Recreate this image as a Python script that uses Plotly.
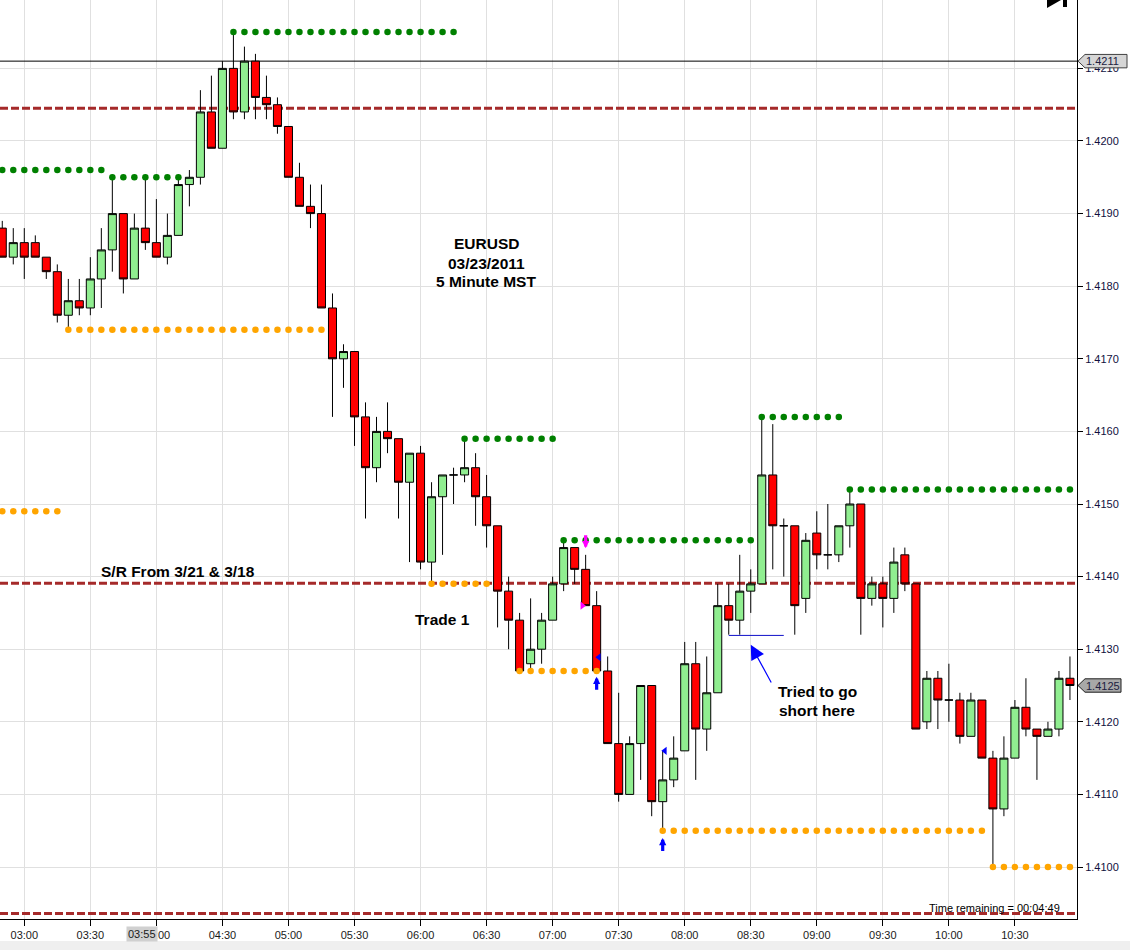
import pandas as pd
import plotly.graph_objects as go

DAY = "2011-03-23 "
FIRST_BAR = "02:50"

# ---------------- candle data (EURUSD, 5 minute bars) ----------------
open_ = [1.4188, 1.4184, 1.4186, 1.4186, 1.4184, 1.4182, 1.4176, 1.4178, 1.4177, 1.4181,
         1.4185, 1.4190, 1.4181, 1.4188, 1.4186, 1.4184, 1.4187, 1.4194, 1.4195, 1.4204,
         1.4199, 1.4210, 1.4204, 1.4211, 1.4206, 1.4205, 1.4202, 1.4195, 1.4191, 1.4190,
         1.4177, 1.4170, 1.4171, 1.4162, 1.4155, 1.4160, 1.4159, 1.4153, 1.4157, 1.4142,
         1.4151, 1.4154, 1.4154, 1.4155, 1.4151, 1.4147, 1.4138, 1.4134, 1.4128, 1.4130,
         1.4134, 1.4139, 1.4144, 1.4141, 1.4136, 1.4127, 1.4117, 1.4110, 1.4117, 1.4125,
         1.4109, 1.4112, 1.4116, 1.4128, 1.4119, 1.4124, 1.4136, 1.4134, 1.4138, 1.4139,
         1.4154, 1.4147, 1.4147, 1.4137, 1.4146, 1.4143, 1.4143, 1.4147, 1.4150, 1.4137,
         1.4139, 1.4137, 1.4143, 1.4139, 1.4120, 1.4126, 1.4123, 1.4123, 1.4118, 1.4123,
         1.4115, 1.4108, 1.4115, 1.4122, 1.4119, 1.4118, 1.4119, 1.4126]
high = [1.4189, 1.4188, 1.4188, 1.4187, 1.4184, 1.4183, 1.4181, 1.4181, 1.4184, 1.4188,
        1.4195, 1.4190, 1.4190, 1.4195, 1.4192, 1.4190, 1.4195, 1.4196, 1.4207, 1.4209,
        1.4211, 1.4215, 1.4213, 1.4212, 1.4209, 1.4206, 1.4202, 1.4197, 1.4194, 1.4194,
        1.4179, 1.4172, 1.4171, 1.4164, 1.4162, 1.4164, 1.4159, 1.4157, 1.4158, 1.4153,
        1.4154, 1.4155, 1.4159, 1.4157, 1.4154, 1.4147, 1.4140, 1.4135, 1.4137, 1.4135,
        1.4140, 1.4145, 1.4144, 1.4143, 1.4138, 1.4129, 1.4124, 1.4118, 1.4125, 1.4125,
        1.4116, 1.4118, 1.4131, 1.4131, 1.4129, 1.4139, 1.4139, 1.4143, 1.4141, 1.4162,
        1.4161, 1.4148, 1.4147, 1.4146, 1.4149, 1.4150, 1.4147, 1.4152, 1.4150, 1.4140,
        1.4140, 1.4144, 1.4144, 1.4139, 1.4127, 1.4127, 1.4128, 1.4124, 1.4124, 1.4123,
        1.4116, 1.4118, 1.4123, 1.4126, 1.4119, 1.4120, 1.4127, 1.4129]
low = [1.4184, 1.4183, 1.4181, 1.4184, 1.4181, 1.4175, 1.4174, 1.4176, 1.4176, 1.4177,
       1.4182, 1.4179, 1.4181, 1.4185, 1.4184, 1.4183, 1.4187, 1.4191, 1.4194, 1.4199,
       1.4199, 1.4203, 1.4203, 1.4203, 1.4203, 1.4201, 1.4195, 1.4191, 1.4188, 1.4177,
       1.4162, 1.4166, 1.4158, 1.4148, 1.4153, 1.4157, 1.4148, 1.4142, 1.4141, 1.4139,
       1.4143, 1.4150, 1.4153, 1.4147, 1.4144, 1.4133, 1.4130, 1.4127, 1.4127, 1.4128,
       1.4134, 1.4138, 1.4139, 1.4136, 1.4127, 1.4117, 1.4109, 1.4110, 1.4112, 1.4107,
       1.4105, 1.4111, 1.4116, 1.4112, 1.4116, 1.4124, 1.4132, 1.4132, 1.4135, 1.4139,
       1.4141, 1.4140, 1.4132, 1.4135, 1.4141, 1.4141, 1.4142, 1.4144, 1.4132, 1.4136,
       1.4133, 1.4135, 1.4138, 1.4119, 1.4119, 1.4119, 1.4120, 1.4117, 1.4118, 1.4115,
       1.4100, 1.4107, 1.4115, 1.4118, 1.4112, 1.4118, 1.4118, 1.4123]
close = [1.4184, 1.4186, 1.4184, 1.4184, 1.4182, 1.4176, 1.4178, 1.4177, 1.4181, 1.4185,
         1.4190, 1.4181, 1.4188, 1.4186, 1.4184, 1.4187, 1.4194, 1.4195, 1.4204, 1.4199,
         1.4210, 1.4204, 1.4211, 1.4206, 1.4205, 1.4202, 1.4195, 1.4191, 1.4190, 1.4177,
         1.4170, 1.4171, 1.4162, 1.4155, 1.4160, 1.4159, 1.4153, 1.4157, 1.4142, 1.4151,
         1.4154, 1.4154, 1.4155, 1.4151, 1.4147, 1.4138, 1.4134, 1.4127, 1.4130, 1.4134,
         1.4139, 1.4144, 1.4141, 1.4136, 1.4127, 1.4117, 1.4110, 1.4117, 1.4125, 1.4109,
         1.4112, 1.4115, 1.4128, 1.4119, 1.4124, 1.4136, 1.4134, 1.4138, 1.4139, 1.4154,
         1.4147, 1.4147, 1.4136, 1.4145, 1.4143, 1.4143, 1.4147, 1.4150, 1.4137, 1.4139,
         1.4137, 1.4142, 1.4139, 1.4119, 1.4126, 1.4123, 1.4123, 1.4118, 1.4123, 1.4115,
         1.4108, 1.4115, 1.4122, 1.4119, 1.4118, 1.4119, 1.4126, 1.4125]

# ---------------- indicator levels (dotted) ----------------
green_start = ["02:50", "03:40", "04:35", "06:20", "07:05", "08:35", "09:15"]
green_end = ["03:35", "04:10", "06:15", "07:00", "08:30", "09:10", "10:55"]
green_level = [1.4196, 1.4195, 1.4215, 1.4159, 1.4145, 1.4162, 1.4152]

orange_start = ["02:50", "03:20", "06:05", "06:45", "07:50", "10:20"]
orange_end = ["03:15", "05:15", "06:30", "07:20", "10:15", "10:55"]
orange_level = [1.4149, 1.4174, 1.4139, 1.4127, 1.4105, 1.4100]

# ---------------- horizontal lines ----------------
sr_levels = [1.42045, 1.41391, 1.40936]       # dashed S/R lines
last_line_level = 1.4211                      # black line / label
last_price = 1.4125                           # current price label
short_line = ("08:20", "08:45", 1.41319)      # "tried to go short" line

# ---------------- signals ----------------
arrow_time = ["07:15", "07:20", "07:50"]
arrow_head = [1.41439, 1.41262, 1.41040]
arrow_tail = [1.41459, 1.41242, 1.41020]
arrow_color = ["#ff00ff", "#0000ff", "#0000ff"]

tri_time = ["07:13:30", "07:21:00", "07:51:00"]
tri_price = [1.41360, 1.41289, 1.41160]
tri_symbol = ["triangle-right", "triangle-left", "triangle-left"]
tri_color = ["#ff00ff", "#0000ff", "#0000ff"]

note_head = ("08:30", 1.41306)
note_tail = ("08:39:40", 1.41252)

x_range = [DAY + "02:48:58", DAY + "10:58:12"]
y_range = [1.409284, 1.421942]

# ------------------------------------------------------------
times = pd.date_range(DAY + FIRST_BAR, periods=len(open_), freq="5min")

FONT = "Arial, Liberation Sans, sans-serif"
W, H = 1130, 950
ML, MR, MT, MB = 0, 53, 0, 31
PW, PH = W - ML - MR, H - MT - MB
YPX = (y_range[1] - y_range[0]) / PH   # price per pixel

fig = go.Figure()

fig.add_trace(go.Candlestick(
    x=times, open=open_, high=high, low=low, close=close,
    increasing=dict(fillcolor="#90ee90", line=dict(color="black", width=1)),
    decreasing=dict(fillcolor="#ff0000", line=dict(color="black", width=1)),
    whiskerwidth=0, showlegend=False, hoverinfo="skip",
))


def dot_trace(starts, ends, levels, color):
    xs, ys = [], []
    for s, e, lv in zip(starts, ends, levels):
        seg = pd.date_range(DAY + s, DAY + e, freq="5min")
        xs += list(seg) + [None]
        ys += [lv] * len(seg) + [None]
    return go.Scatter(x=xs, y=ys, mode="markers",
                      marker=dict(size=6.5, color=color, line=dict(width=0)),
                      showlegend=False, hoverinfo="skip")


fig.add_trace(dot_trace(green_start, green_end, green_level, "#008000"))
fig.add_trace(dot_trace(orange_start, orange_end, orange_level, "#ffa500"))

fig.add_trace(go.Scatter(
    x=[DAY + t for t in tri_time], y=tri_price, mode="markers",
    marker=dict(symbol=tri_symbol, size=7, color=tri_color, line=dict(width=0)),
    showlegend=False, hoverinfo="skip"))

shapes = []
for lv in sr_levels:
    shapes.append(dict(type="line", xref="x", yref="y", x0=x_range[0], x1=x_range[1],
                       y0=lv, y1=lv, layer="between",
                       line=dict(color="#a52a2a", width=3, dash="8px,3px")))
shapes.append(dict(type="line", xref="x", yref="y", x0=x_range[0], x1=x_range[1],
                   y0=last_line_level, y1=last_line_level, layer="between",
                   line=dict(color="black", width=1)))
shapes.append(dict(type="line", xref="x", yref="y",
                   x0=DAY + short_line[0], x1=DAY + short_line[1],
                   y0=short_line[2], y1=short_line[2], layer="above",
                   line=dict(color="#1010c8", width=1)))


def px(xp):
    return xp / PW


def price_tag(level, right_px, fill, border):
    h = 6.7 * YPX
    path = (f"M {px(PW + 1)},{level} L {px(PW + 8)},{level + h} L {px(right_px)},{level + h} "
            f"L {px(right_px)},{level - h} L {px(PW + 8)},{level - h} Z")
    return dict(type="path", xref="paper", yref="y", path=path, fillcolor=fill,
                line=dict(color=border, width=1), layer="above")


shapes.append(price_tag(last_line_level, 1127, "#d6d6d6", "#404040"))
shapes.append(price_tag(last_price, 1121, "#a8a8a8", "#202020"))

# bottom grey band
shapes.append(dict(type="rect", xref="paper", yref="paper", x0=-0.01, x1=W / PW,
                   y0=-(H - PH + 0.5) / PH, y1=-(941 - PH) / PH,
                   fillcolor="#efefef", line=dict(width=0), layer="above"))


# top-right icon (cut off)
def py(ypx):
    return 1 - ypx / PH


shapes.append(dict(type="path", xref="paper", yref="paper",
                   path=f"M {px(1047)},{py(-8)} L {px(1061)},{py(0)} L {px(1047)},{py(8)} Z",
                   fillcolor="black", line=dict(width=0)))
shapes.append(dict(type="rect", xref="paper", yref="paper", x0=px(1063), x1=px(1067),
                   y0=py(7), y1=py(-5), fillcolor="black", line=dict(width=0)))

annotations = []
for t, hd, tl, c in zip(arrow_time, arrow_head, arrow_tail, arrow_color):
    annotations.append(dict(x=DAY + t, y=hd, ax=DAY + t, ay=tl, axref="x", ayref="y",
                            xref="x", yref="y", text="", showarrow=True,
                            arrowhead=2, arrowsize=0.45, arrowwidth=3.2, arrowcolor=c))
annotations.append(dict(x=DAY + note_head[0], y=note_head[1], ax=DAY + note_tail[0],
                        ay=note_tail[1], axref="x", ayref="y", xref="x", yref="y",
                        text="", showarrow=True, arrowhead=2, arrowsize=2.4,
                        arrowwidth=1.2, arrowcolor="#0000ff"))


def label(text, xp, yp, size=15.5, bold=True, xanchor="center", color="black", **kw):
    t = f"<b>{text}</b>" if bold else text
    annotations.append(dict(text=t, x=px(xp), y=py(yp), xref="paper", yref="paper",
                            xanchor=xanchor, yanchor="middle", showarrow=False,
                            font=dict(family=FONT, size=size, color=color), **kw))


label("EURUSD", 486, 244)
label("03/23/2011", 486, 263)
label("5 Minute MST", 486, 281.5)
label("S/R From 3/21 &amp; 3/18", 177.5, 571)
label("Trade 1", 442, 619)
label("Tried to go", 817, 691.5)
label("short here", 817, 710)
label("Time remaining = 00:04:49", 1062, 908, size=11, bold=False, xanchor="right")
label("03:55", 142, 934, size=11, bold=False, color="#1a1a1a",
      bgcolor="#d0d0d0", borderpad=1)

for lv, txt in [(last_line_level, "1.4211"), (last_price, "1.4125")]:
    annotations.append(dict(text=txt, x=px(1102.5), y=lv, xref="paper", yref="y",
                            xanchor="center", yanchor="middle", showarrow=False,
                            font=dict(family=FONT, size=11, color="#202040")))

fig.update_layout(
    width=W, height=H,
    margin=dict(l=ML, r=MR, t=MT, b=MB, autoexpand=False),
    paper_bgcolor="white", plot_bgcolor="white",
    showlegend=False, boxgap=0.27, boxgroupgap=0,
    shapes=shapes, annotations=annotations,
    xaxis=dict(
        type="date", range=x_range, rangeslider=dict(visible=False),
        tick0=DAY + "03:00", dtick=30 * 60 * 1000, tickformat="%H:%M",
        showgrid=True, gridcolor="#e0e0e0", gridwidth=1,
        ticks="outside", ticklen=6, tickcolor="black", tickwidth=1,
        showline=True, linecolor="black", linewidth=1, zeroline=False,
        tickfont=dict(family=FONT, size=11, color="#1a1a1a"),
    ),
    yaxis=dict(
        range=y_range, side="right", tick0=1.41, dtick=0.001, tickformat=".4f",
        showgrid=True, gridcolor="#e0e0e0", gridwidth=1,
        ticks="outside", ticklen=5, tickcolor="black", tickwidth=1,
        showline=True, linecolor="black", linewidth=1, zeroline=False,
        tickfont=dict(family=FONT, size=11, color="#101040"),
    ),
)

fig.write_html("out.html", config=dict(displayModeBar=False),
               post_script="document.body.style.margin='0px';"
                           "document.body.style.overflow='hidden';")
